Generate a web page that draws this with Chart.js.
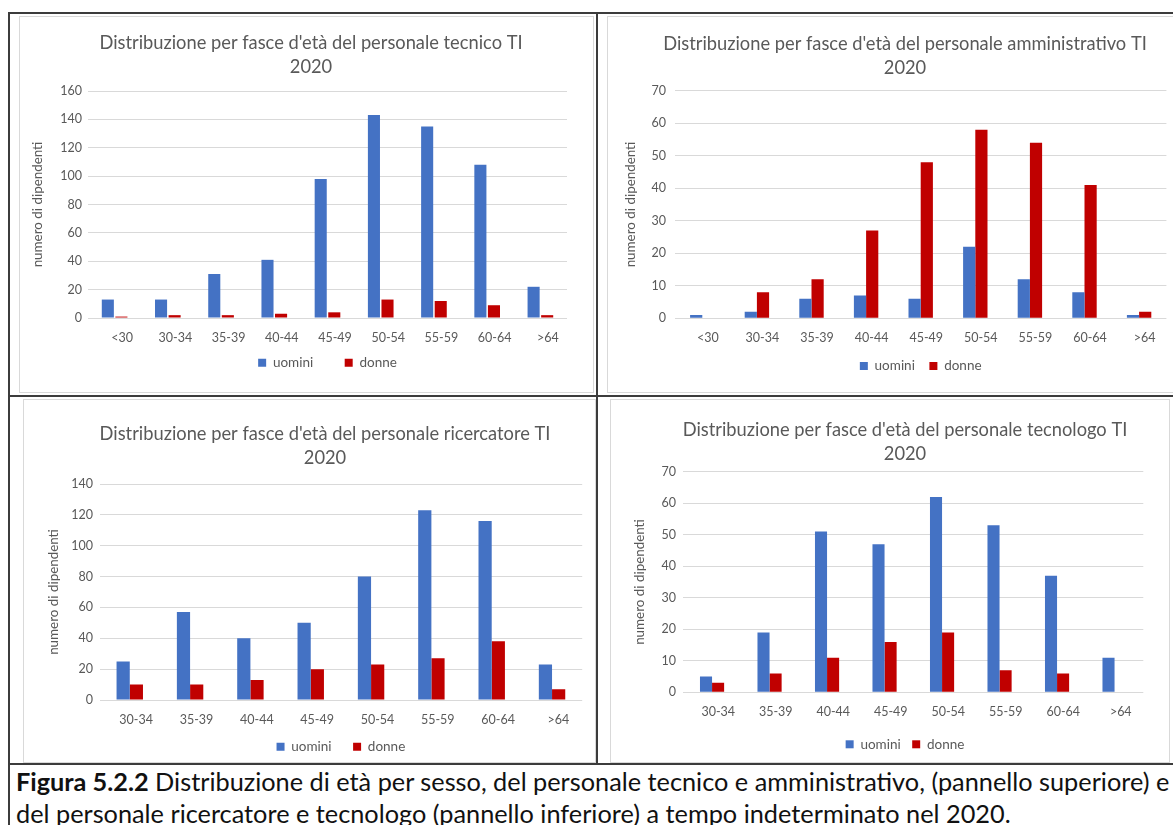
<!DOCTYPE html>
<html lang="it">
<head>
<meta charset="utf-8">
<title>Distribuzione per fasce d'età del personale TI 2020</title>
<script src="https://cdn.jsdelivr.net/npm/chart.js@4.4.1/dist/chart.umd.min.js"></script>
<style>
  html, body { margin: 0; padding: 0; background: #fff; }
  body { position: relative; width: 1173px; height: 825px; overflow: hidden; font-family: Lato, "Open Sans", sans-serif; }
  .rule { position: absolute; background: #3c3c3c; }
  .frame { position: absolute; border: 1px solid #d9d9d9; box-sizing: border-box; }
  canvas { position: absolute; }
  #caption { position: absolute; left: 16px; top: 765px; font-size: 25.3px; line-height: 32px; color: #111; white-space: nowrap; }
  #caption b { font-weight: 700; }
</style>
</head>
<body>
<!-- table rules around the four panels -->
<div class="rule" style="left:8px;top:12px;width:1165px;height:2px"></div>
<div class="rule" style="left:8px;top:12px;width:2px;height:813px"></div>
<div class="rule" style="left:596px;top:12px;width:2px;height:752px"></div>
<div class="rule" style="left:8px;top:395px;width:1165px;height:2px"></div>
<div class="rule" style="left:8px;top:763px;width:1165px;height:2px"></div>
<!-- chart frames -->
<div class="frame" style="left:19px;top:16px;width:575px;height:377px"></div>
<div class="frame" style="left:607px;top:16px;width:580px;height:377px"></div>
<div class="frame" style="left:23px;top:399px;width:573px;height:364px"></div>
<div class="frame" style="left:610px;top:399px;width:560px;height:364px"></div>

<div id="caption"><b>Figura 5.2.2</b> Distribuzione di età per sesso, del personale tecnico e amministrativo, (pannello superiore) e<br>del personale ricercatore e tecnologo (pannello inferiore) a tempo indeterminato nel 2020.</div>

<script>
// ---- data ----
const etaConUnder30 = ['<30', '30-34', '35-39', '40-44', '45-49', '50-54', '55-59', '60-64', '>64'];
const etaDa30 = ['30-34', '35-39', '40-44', '45-49', '50-54', '55-59', '60-64', '>64'];
const serieNomi = ['uomini', 'donne'];
const anno = '2020';

const tecnicoUomini = [13, 13, 31, 41, 98, 143, 135, 108, 22];
const tecnicoDonne = [1, 2, 2, 3, 4, 13, 12, 9, 2];

const amministrativoUomini = [1, 2, 6, 7, 6, 22, 12, 8, 1];
const amministrativoDonne = [0, 8, 12, 27, 48, 58, 54, 41, 2];

const ricercatoreUomini = [25, 57, 40, 50, 80, 123, 116, 23];
const ricercatoreDonne = [10, 10, 13, 20, 23, 27, 38, 7];

const tecnologoUomini = [5, 19, 51, 47, 62, 53, 37, 11];
const tecnologoDonne = [3, 6, 11, 16, 19, 7, 6, 0];

const titoli = [
  "Distribuzione per fasce d'età del personale tecnico TI",
  "Distribuzione per fasce d'età del personale amministrativo TI",
  "Distribuzione per fasce d'età del personale ricercatore TI",
  "Distribuzione per fasce d'età del personale tecnologo TI"
];
const assiMax = [160, 70, 140, 70];
const assiPasso = [20, 10, 20, 10];
const titoloAsseY = 'numero di dipendenti';

// ---- styling ----
const BLU = '#4472C4';
const ROSSO = '#C00000';
const TESTO = '#595959';
const GRIGLIA = '#D9D9D9';
const FONT = 'Lato, "Open Sans", sans-serif';

// ---- panel geometry (page pixels) ----
// plotL/plotR: extent of the category axis; barShift: the column clusters sit a few
// pixels left of their category labels, so the plot box is moved and labels pushed back.
const layouts = [
  { left: 20,  top: 15,  w: 580, h: 372, plotL: 95.5, plotR: 574.5,  barShift: -7.5, plotT: 91,    plotB: 318,   titleX: 311, line1: 43,    yTitleX: 38,  tickR: 82,  xLab: 338,   legY: 362.7, legPad: 31.5, legFull: false, cat: 0.51,  bar: 0.89 },
  { left: 607, top: 15,  w: 600, h: 374, plotL: 680.5, plotR: 1171.9, barShift: -5.5, plotT: 90.7,  plotB: 318.3, titleX: 905, line1: 44.5,  yTitleX: 631, tickR: 666, xLab: 337.7, legY: 366,   legPad: 14.5, legFull: false, cat: 0.447, bar: 1 },
  { left: 23,  top: 400, w: 600, h: 368, plotL: 106,  plotR: 588.6,  barShift: -6.4, plotT: 484,   plotB: 700,   titleX: 325, line1: 434,   yTitleX: 54,  tickR: 93,  xLab: 720,   legY: 746.7, legPad: 21.5, legFull: false, cat: 0.438, bar: 1 },
  { left: 610, top: 400, w: 590, h: 366, plotL: 689.5, plotR: 1149.5, barShift: -6.2, plotT: 471.7, plotB: 692.3, titleX: 905, line1: 430.5, yTitleX: 640, tickR: 676, xLab: 711.7, legY: 744.3, legPad: 11.5, legFull: true,  cat: 0.42,  bar: 1 }
];

const pannelli = [
  { labels: etaConUnder30, uomini: tecnicoUomini, donne: tecnicoDonne },
  { labels: etaConUnder30, uomini: amministrativoUomini, donne: amministrativoDonne },
  { labels: etaDa30, uomini: ricercatoreUomini, donne: ricercatoreDonne },
  { labels: etaDa30, uomini: tecnologoUomini, donne: tecnologoDonne }
];

const TITLE_SIZE = 18.3, TITLE_LINE = 24;
const TICK_SIZE = 12.5, TICK_LH = 1.2;
const AXIS_TITLE_SIZE = 13.4, AXIS_TITLE_LH = 1.2;
const LEGEND_SIZE = 13.5;

function disegnaPannello(i) {
  const p = pannelli[i];
  const g = layouts[i];
  const canvas = document.createElement('canvas');
  canvas.width = g.w;
  canvas.height = g.h;
  canvas.style.left = g.left + 'px';
  canvas.style.top = g.top + 'px';
  document.body.appendChild(canvas);

  // coordinates relative to the canvas
  const areaL = g.plotL + g.barShift - g.left;
  const areaR = g.plotR + g.barShift - g.left;
  const plotT = g.plotT - g.top, plotB = g.plotB - g.top;
  const titleX = g.titleX - g.left;
  const yTitleHalf = AXIS_TITLE_SIZE * AXIS_TITLE_LH / 2;
  const padL = (g.yTitleX - g.left) - 4 - yTitleHalf;
  const titleRight = 2 * titleX - padL;      // the chart title is centred between padL and titleRight
  const padR = g.w - titleRight;
  const spacerW = titleRight - areaR;        // empty right-hand axis filling the gap
  const titlePadTop = (g.line1 - g.top) - TITLE_LINE / 2;
  const titlePadBottom = plotT - (titlePadTop + 2 * TITLE_LINE);
  const xH = (g.legY - g.top) - plotB - g.legPad - LEGEND_SIZE / 2;
  const legendH = LEGEND_SIZE + g.legPad + 10;
  const padB = g.h - (plotB + xH + legendH);
  const yAxisW = areaL - padL;
  const xLabelShift = (g.xLab - g.top) - plotB + TICK_SIZE * TICK_LH / 2;

  new Chart(canvas, {
    type: 'bar',
    data: {
      labels: p.labels,
      datasets: [
        { label: serieNomi[0], data: p.uomini, backgroundColor: BLU, categoryPercentage: g.cat, barPercentage: g.bar },
        { label: serieNomi[1], data: p.donne, backgroundColor: ROSSO, categoryPercentage: g.cat, barPercentage: g.bar }
      ]
    },
    options: {
      responsive: false,
      animation: false,
      devicePixelRatio: 1,
      layout: { padding: { left: padL, right: padR, top: 0, bottom: padB } },
      plugins: {
        title: {
          display: true,
          text: [titoli[i], anno],
          color: TESTO,
          font: { family: FONT, size: TITLE_SIZE, weight: 'normal', lineHeight: TITLE_LINE / TITLE_SIZE },
          padding: { top: titlePadTop, bottom: titlePadBottom }
        },
        legend: {
          position: 'bottom',
          fullSize: g.legFull,
          labels: {
            color: TESTO,
            font: { family: FONT, size: LEGEND_SIZE },
            boxWidth: 8,
            boxHeight: 8,
            padding: g.legPad
          }
        },
        tooltip: { enabled: false }
      },
      scales: {
        x: {
          grid: { display: false, drawTicks: false },
          border: { display: false },
          ticks: {
            color: TESTO,
            font: { family: FONT, size: TICK_SIZE, lineHeight: TICK_LH },
            mirror: true,
            padding: -xLabelShift,
            labelOffset: -g.barShift,
            maxRotation: 0,
            autoSkip: false
          },
          afterFit(scale) { scale.height = xH; }
        },
        y: {
          min: 0,
          max: assiMax[i],
          ticks: { stepSize: assiPasso[i], color: TESTO, font: { family: FONT, size: TICK_SIZE }, padding: areaL - (g.tickR - g.left) },
          grid: { color: GRIGLIA, lineWidth: 1, drawTicks: false },
          border: { display: false },
          title: {
            display: true,
            text: titoloAsseY,
            color: TESTO,
            font: { family: FONT, size: AXIS_TITLE_SIZE, lineHeight: AXIS_TITLE_LH },
            padding: { top: 4, bottom: 0 }
          },
          afterFit(scale) { scale.width = yAxisW; }
        },
        spazio: {
          type: 'linear',
          axis: 'y',
          position: 'right',
          grid: { display: false, drawTicks: false },
          border: { display: false },
          ticks: { display: false },
          afterFit(scale) { scale.width = spacerW; }
        }
      }
    }
  });
}

for (let i = 0; i < pannelli.length; i++) disegnaPannello(i);
</script>
</body>
</html>
